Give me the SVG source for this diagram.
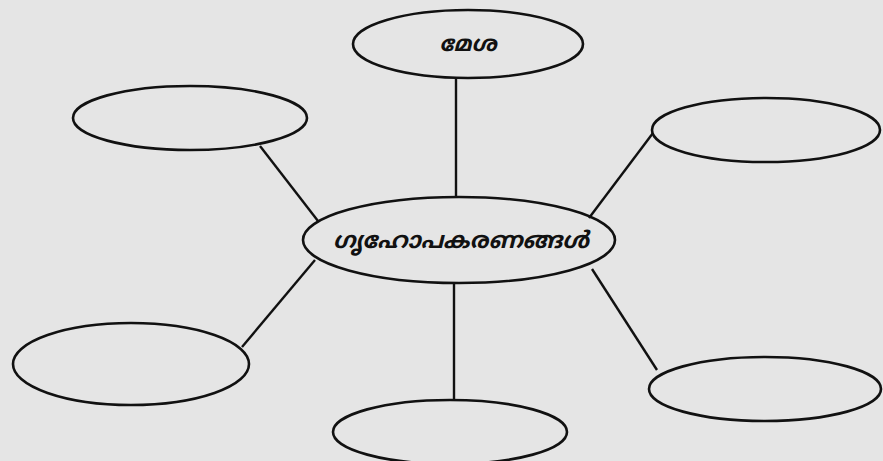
<svg xmlns="http://www.w3.org/2000/svg" width="883" height="461" viewBox="0 0 883 461">
<style>
.n{fill:none;stroke:#111;stroke-width:2.6}
.c line{stroke:#111;stroke-width:2.4}
.t{font-family:"Noto Sans Malayalam","Noto Sans","DejaVu Sans",sans-serif;fill:#111;text-anchor:middle;font-style:italic;font-weight:bold}
</style>
<rect width="883" height="461" fill="#e5e5e5"/>
<g class="c" id="connectors">
<line x1="456" y1="78" x2="456" y2="198"/>
<line x1="260" y1="146" x2="318" y2="221"/>
<line x1="653" y1="133" x2="589" y2="218"/>
<line x1="315" y1="260" x2="242" y2="347"/>
<line x1="454" y1="283" x2="454" y2="400"/>
<line x1="592" y1="269" x2="657" y2="370"/>
</g>
<g id="n-top"><ellipse class="n" cx="468" cy="44" rx="115" ry="34"/><text class="t" x="468" y="51" font-size="22">മേശ</text></g>
<g id="n-center"><ellipse class="n" cx="459" cy="240" rx="156" ry="43"/><text class="t" x="461" y="248" font-size="23">ഗൃഹോപകരണങ്ങൾ</text></g>
<g id="n-topleft"><ellipse class="n" cx="190" cy="118" rx="117" ry="32"/></g>
<g id="n-topright"><ellipse class="n" cx="766" cy="130" rx="114" ry="32"/></g>
<g id="n-bottomleft"><ellipse class="n" cx="131" cy="364" rx="118" ry="41"/></g>
<g id="n-bottom"><ellipse class="n" cx="450" cy="432" rx="117" ry="32"/></g>
<g id="n-bottomright"><ellipse class="n" cx="765" cy="389" rx="116" ry="32"/></g>
</svg>
